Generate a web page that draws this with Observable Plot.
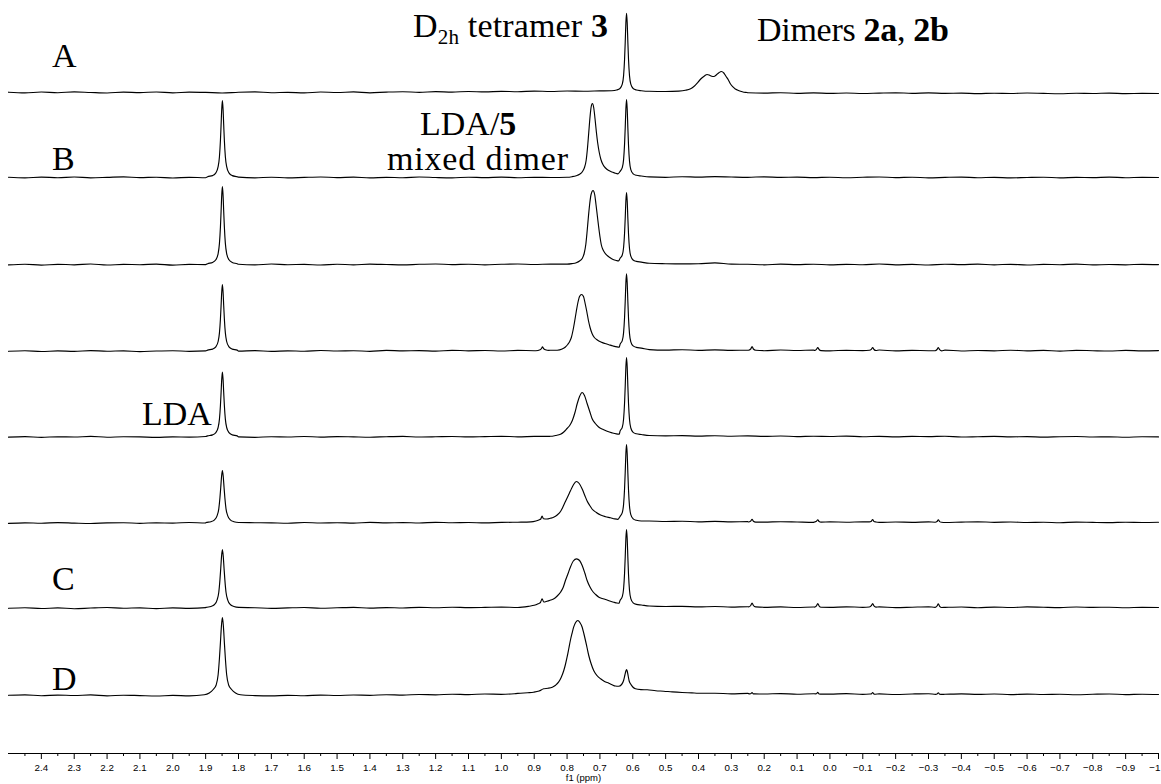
<!DOCTYPE html>
<html><head><meta charset="utf-8">
<script src="https://cdn.jsdelivr.net/npm/d3@7"></script>
<script src="https://cdn.jsdelivr.net/npm/@observablehq/plot@0.6"></script>
<style>html,body{margin:0;padding:0;background:#fff;} svg{display:block}</style>
</head><body><div id="chart"></div>
<script>
// ---------- DATA ----------
// x axis ticks
const tickValues = [2.4,2.3,2.2,2.1,2.0,1.9,1.8,1.7,1.6,1.5,1.4,1.3,1.2,1.1,1.0,0.9,0.8,0.7,0.6,0.5,0.4,0.3,0.2,0.1,0.0,-0.1,-0.2,-0.3,-0.4,-0.5,-0.6,-0.7,-0.8,-0.9,-1.0];
const tickLabels = ["2.4","2.3","2.2","2.1","2.0","1.9","1.8","1.7","1.6","1.5","1.4","1.3","1.2","1.1","1.0","0.9","0.8","0.7","0.6","0.5","0.4","0.3","0.2","0.1","0.0","\u22120.1","\u22120.2","\u22120.3","\u22120.4","\u22120.5","\u22120.6","\u22120.7","\u22120.8","\u22120.9","\u22121"];
const minorTickValues = [2.45,2.35,2.25,2.15,2.05,1.95,1.85,1.75,1.65,1.55,1.45,1.35,1.25,1.15,1.05,0.95,0.85,0.75,0.65,0.55,0.45,0.35,0.25,0.15,0.05,-0.05,-0.15,-0.25,-0.35,-0.45,-0.55,-0.65,-0.75,-0.85,-0.95];
const axisTitle = "f1 (ppm)";

// baseline samples every 0.05 ppm from 2.5 down to -1.0 (71 values per spectrum)
const baselinePpm = d3.range(71).map(i => +(2.5 - 0.05 * i).toFixed(2));
const base1 = [0.3,-0.4,0.5,-0.2,0.6,0.0,-0.5,0.4,-0.1,0.5, -0.3,0.4,0.1,-0.5,0.3,0.6,-0.2,0.2,-0.4,0.5, 0.0,0.6,-0.3,0.4,0.8,0.2,0.9,0.4,1.0,0.6, 1.2,0.8,1.4,1.0,1.5,1.3,1.6,1.5,1.4,1.2, 1.0,1.5,0,0,0,-0.3,-0.6,-0.2,-0.8,-0.4, -0.9,-0.5,-1.0,-0.6,-0.3,-0.8,-0.4,-0.9,-0.6,-1.1, -0.7,-1.0,-0.5,-0.9,-1.2,-0.7,-1.0,-0.6,-1.1,-0.8,-1.0];
const base2 = [1.2,0.6,1.4,0.8,1.5,0.7,1.1,1.6,0.9,1.3, 0.5,1.2,0.8,1.0,1.4,0.7,1.3,0.6,1.1,1.5, 0.9,1.4,0.6,1.2,0.8,1.5,1.0,0.7,1.3,0.9, 1.4,0.8,1.2,1.0,1.2,1.0,1.0,1.0,1.0,1.6, 1.2,1.8,1.4,1.9,1.5,1.2,1.7,1.1,1.4,0.9, 1.3,0.8,1.2,1.5,0.9,1.3,0.7,1.1,1.4,0.8, 1.2,0.6,1.0,1.3,0.7,1.1,0.9,1.4,0.8,1.2,1.0];
const base3 = [-0.4,0.3,-0.6,0.2,-0.3,0.5,-0.5,0.1,-0.2,0.4, -0.6,0.2,-0.1,0,0.3,-0.4,0.5,-0.2,0.1,-0.5, 0.3,-0.3,0.4,0.0,-0.4,0.2,0.5,-0.1,0.3,-0.3, 0.2,0.5,0.0,0.4,0.3,0,0,0,0,1.2, 0.8,0.6,0.8,1.6,0.4,0.2,-0.3,0.4,-0.1,0.3, -0.4,0.2,-0.2,0.5,-0.3,0.1,-0.5,0.3,-0.1,0.4, -0.3,0.2,-0.5,0.1,-0.2,0.4,-0.4,0.0,-0.3,0.2,-0.1];
const base4 = [-0.8,-0.2,-1.0,-0.4,-0.9,-0.1,-0.7,-0.3,-1.1,-0.5, -0.2,-0.8,-0.4,0,-0.6,-0.1,-0.9,-0.3,-0.7,0.0, -0.5,-0.2,-0.8,0.1,-0.4,-0.1,-0.6,0.2,-0.3,0.0, -0.5,0.1,-0.2,0.3,0,0,0,0,0,0.9, 0.4,0.8,0.2,0.6,0.1,0.3,-0.2,0.5,0.0,0.4, -0.3,0.2,-0.1,0.5,-0.4,0.1,-0.2,0.4,-0.5,0.0, -0.3,0.3,-0.4,0.1,-0.6,0.2,-0.2,-0.5,0.1,-0.3,-0.1];
const base5 = [-0.6,-0.1,-0.8,-0.3,-0.5,0.1,-0.7,-0.2,-0.4,-0.9, -0.3,-0.6,0.0,0,-0.4,-0.8,-0.2,-0.5,0.0,-0.6, -0.1,-0.4,-0.7,-0.2,0.1,-0.5,-0.3,0.0,-0.4,-0.1, 0.2,-0.3,0.1,-0.2,0.3,0,0,0,0,1.0, 0.6,0.9,0.4,0.8,0.3,0.6,0.1,0.5,-0.1,0.3, 0.0,0.4,-0.2,0.2,-0.4,0.1,-0.1,0.3,-0.5,-0.2, 0.1,-0.4,-0.1,-0.6,-0.2,0.0,-0.5,-0.3,-0.7,-0.2,-0.4];
const base6 = [-0.9,-0.3,-0.7,-0.1,-0.6,-1.0,-0.4,-0.2,-0.8,-0.3, -0.6,0.0,-0.5,0,-0.8,-0.2,-0.4,-0.7,0.0,-0.5, -0.2,-0.6,0.1,-0.3,-0.1,-0.5,0.2,-0.2,0.0,-0.4, 0.1,0.3,0.0,0,0,0,0,0,0,1.5, 1.0,1.3,0.7,1.1,0.6,0.9,0.4,0.8,0.5,0.2, 0.6,0.3,0.7,0.1,0.5,0.2,0.6,0.0,0.4,0.7, 0.2,0.5,0.0,0.3,-0.2,0.4,0.1,-0.1,0.3,0.0,0.2];
const base7 = [0.2,0.8,0.0,0.6,-0.2,0.5,1.0,0.3,0.7,-0.1, 0.6,0.2,0.9,0,0.4,0.8,0.1,0.6,1.0,0.3, 0.7,1.1,0.4,0.9,0.5,1.2,0.8,1.3,0.9,1.1, 1.4,1.0,0,0,0,0,0,0,0,2.5, 2.0,2.2,1.6,2.0,1.4,1.8,1.2,1.6,1.0,1.5, 1.1,1.7,1.2,1.6,0.9,1.3,1.7,1.1,1.5,0.8, 1.4,1.0,1.6,1.2,0.9,1.5,1.1,1.3,0.8,1.2,1.0];
const base8 = [-0.8,-0.3,-1.2,-0.6,-1.0,-0.4,-1.3,-0.7,-1.1,-1.5, -0.9,-1.4,-1.2,0,-1.6,-1.1,-1.4,-0.8,-1.2,-0.6, -1.0,-0.5,-0.8,-0.2,-0.6,0.0,-0.3,0.3,-0.1,0.5, 0.2,0.8,0.5,0,0,0,0,0,0,0, 0,0,0.9,1.3,0.7,1.1,0.5,0.9,0.3,0.8, 0.4,0.9,0.2,0.6,0.0,0.5,0.8,0.2,0.6,0.1, 0.5,-0.1,0.4,0.0,0.3,-0.2,0.2,0.5,-0.1,0.3,0.0];

// peak regions: [ppm, intensity] (ppm descending)
const peaks1 = [
  [[0.664,1.8],[0.649,2.5],[0.639,4.0],[0.632,8.3],[0.628,16.9],[0.625,33.3],[0.623,50.4],[0.621,69.9],[0.619,79.3],[0.617,69.9],[0.615,50.4],[0.613,33.3],[0.610,16.9],[0.606,8.3],[0.599,4.0],[0.589,2.5],[0.574,1.8]],
  [[0.46,1.4],[0.44,2.2],[0.424,3.8],[0.414,6],[0.404,9.3],[0.396,12.5],[0.389,14.8],[0.381,16.8],[0.374,18],[0.366,17.2],[0.36,16.3],[0.353,16],[0.346,17.5],[0.338,19.8],[0.330,21],[0.323,19.5],[0.316,16],[0.309,12.5],[0.303,8.8],[0.296,5.8],[0.289,3.8],[0.282,2.6],[0.272,1.2],[0.262,0.3],[0.252,0]]
];
const peaks2 = [
  [[1.894,1.8],[1.879,2.9],[1.869,5.6],[1.862,11.8],[1.858,21.8],[1.855,38],[1.853,53.4],[1.851,69.5],[1.849,78],[1.847,69.5],[1.845,53.4],[1.843,38],[1.840,21.8],[1.836,11.8],[1.829,5.6],[1.819,2.9],[1.804,1.8]],
  [[0.80,1.2],[0.785,1.8],[0.772,2.8],[0.762,4.2],[0.753,7],[0.747,11],[0.742,18],[0.738,30],[0.734,46],[0.730,62],[0.727,71],[0.723,75],[0.719,71],[0.715,60],[0.711,47],[0.707,36],[0.702,26],[0.697,19],[0.690,13.5],[0.683,10.5],[0.673,8],[0.663,6.5],[0.653,5.2],[0.645,4.7]],
  [[0.639,7.0],[0.632,10.9],[0.628,18.9],[0.625,34.6],[0.623,51],[0.621,69.8],[0.619,79],[0.617,69.8],[0.615,50.5],[0.613,33.6],[0.610,17.4],[0.606,8.9],[0.599,4.7],[0.589,3.2],[0.574,2.5]]
];
const peaks3 = [
  [[1.894,0.8],[1.879,2.0],[1.869,4.7],[1.862,10.9],[1.858,21.1],[1.855,37.4],[1.853,53],[1.851,69.4],[1.849,78],[1.847,69.4],[1.845,53],[1.843,37.4],[1.840,21.1],[1.836,10.9],[1.829,4.7],[1.819,2.0],[1.804,0.8]],
  [[0.80,0.4],[0.785,0.9],[0.772,1.8],[0.762,3.5],[0.754,6],[0.748,11],[0.743,20],[0.739,33],[0.735,48],[0.731,61],[0.727,70],[0.721,74],[0.716,70],[0.712,60],[0.708,49],[0.704,38],[0.700,28],[0.696,20],[0.691,15],[0.686,12],[0.678,9],[0.670,7],[0.660,5],[0.650,4],[0.643,3.6]],
  [[0.639,6.0],[0.632,9.5],[0.628,17],[0.625,31.5],[0.623,46.6],[0.621,63.8],[0.619,72],[0.617,63.6],[0.615,46.1],[0.613,30.7],[0.610,16],[0.606,8.3],[0.599,4.5],[0.589,3.1],[0.574,2.4]]
];
const peaks4 = [
  [[1.894,0.4],[1.879,1.4],[1.869,3.7],[1.862,9],[1.858,17.6],[1.855,31.5],[1.853,44.8],[1.851,58.7],[1.849,66],[1.847,58.7],[1.845,44.8],[1.843,31.5],[1.840,17.6],[1.836,9],[1.829,3.7],[1.819,1.4],[1.804,0.4]],
  [[0.895,-0.2],[0.882,0.8],[0.877,2.5],[0.875,3.8],[0.872,2.2],[0.866,0.8],[0.855,0.1]],
  [[0.830,0.3],[0.815,1.5],[0.805,3.5],[0.798,6],[0.792,9],[0.787,13],[0.782,20],[0.777,29],[0.772,39],[0.767,48],[0.762,54],[0.756,56],[0.750,54],[0.745,47],[0.740,39],[0.735,30],[0.730,23],[0.724,17],[0.717,13],[0.708,10.5],[0.697,8.5],[0.685,7],[0.673,5.8],[0.660,4.5],[0.648,3.6],[0.641,3.4]],
  [[0.639,5.9],[0.632,9.8],[0.628,17.9],[0.625,33.3],[0.623,49.5],[0.621,67.9],[0.619,76.7],[0.617,67.6],[0.615,48.9],[0.613,32.5],[0.610,16.9],[0.606,8.7],[0.599,4.6],[0.589,3.1],[0.574,2.4]],
  [[0.248,0.3],[0.241,1.5],[0.237,4],[0.233,1.5],[0.226,0.2]],
  [[0.047,0.1],[0.041,1.2],[0.037,3],[0.033,1],[0.027,-0.1]],
  [[-0.120,0.2],[-0.126,1.2],[-0.130,3],[-0.134,1],[-0.140,0]],
  [[-0.320,-0.2],[-0.326,1],[-0.330,3],[-0.334,0.8],[-0.340,-0.3]]
];
const peaks5 = [
  [[1.894,0.6],[1.879,1.6],[1.869,3.9],[1.862,9],[1.858,17.4],[1.855,31],[1.853,43.9],[1.851,57.4],[1.849,64.5],[1.847,57.4],[1.845,43.9],[1.843,31],[1.840,17.4],[1.836,9],[1.829,3.9],[1.819,1.6],[1.804,0.6]],
  [[0.850,0.2],[0.835,1],[0.820,2.2],[0.810,4.5],[0.800,8],[0.792,11],[0.784,16],[0.776,24],[0.769,33],[0.762,40],[0.754,44],[0.747,41],[0.739,33],[0.731,25],[0.724,18],[0.714,13],[0.704,9.5],[0.690,7],[0.678,5.2],[0.663,3.6],[0.650,2.6],[0.641,2.4]],
  [[0.639,5.1],[0.632,9.2],[0.628,17.5],[0.625,33.7],[0.623,50.5],[0.621,69.8],[0.619,79],[0.617,69.7],[0.615,50.3],[0.613,33.3],[0.610,17],[0.606,8.5],[0.599,4.2],[0.589,2.7],[0.574,2.0]]
];
const peaks6 = [
  [[1.899,0],[1.884,0.8],[1.873,2.7],[1.865,6.9],[1.860,13.7],[1.8565,24.7],[1.854,35.2],[1.8515,46.2],[1.849,52],[1.8465,46.2],[1.844,35.2],[1.8415,24.7],[1.838,13.7],[1.833,6.9],[1.825,2.7],[1.814,0.8],[1.799,0]],
  [[0.910,0.6],[0.895,1.5],[0.886,2.5],[0.880,3.5],[0.876,6.5],[0.872,3.8],[0.861,3.5],[0.851,4.2],[0.841,5.2],[0.830,7.5],[0.820,11],[0.812,16],[0.805,21],[0.797,26.5],[0.790,31.5],[0.781,37.5],[0.772,41],[0.763,39],[0.754,33.5],[0.746,27],[0.739,21.5],[0.731,17],[0.724,13.5],[0.711,10],[0.698,7.5],[0.683,5.8],[0.668,4.7],[0.655,3.6],[0.645,3.2]],
  [[0.639,5.9],[0.632,9.9],[0.628,18.1],[0.625,34],[0.623,50.5],[0.621,69.3],[0.619,78],[0.617,68.8],[0.615,49.5],[0.613,32.6],[0.610,16.4],[0.606,7.9],[0.599,3.7],[0.589,2.2],[0.574,1.5]],
  [[0.248,0.5],[0.241,1.5],[0.237,3.2],[0.233,1.3],[0.226,0.4]],
  [[0.047,0.5],[0.041,1.2],[0.037,2.8],[0.033,1],[0.027,0.4]],
  [[-0.120,0.6],[-0.126,1.3],[-0.130,3],[-0.134,1.1],[-0.140,0.5]],
  [[-0.320,0.3],[-0.326,1],[-0.330,2.8],[-0.334,0.9],[-0.340,0.2]]
];
const peaks7 = [
  [[1.899,1.1],[1.884,2.0],[1.873,4.0],[1.865,8.7],[1.860,16.3],[1.8565,28.6],[1.854,40.3],[1.8515,52.6],[1.849,59],[1.8465,52.6],[1.844,40.3],[1.8415,28.6],[1.838,16.3],[1.833,8.7],[1.825,4.0],[1.814,2.0],[1.799,1.1]],
  [[0.915,2.3],[0.900,3.2],[0.888,4.8],[0.881,6],[0.876,9.7],[0.871,6.5],[0.861,7.3],[0.850,8.5],[0.840,9.7],[0.830,12.5],[0.820,16.3],[0.812,21],[0.805,28],[0.797,35],[0.790,41.3],[0.781,47.5],[0.771,49.7],[0.762,48],[0.754,43],[0.746,35.5],[0.739,28],[0.731,22],[0.724,18],[0.713,14],[0.703,11.3],[0.693,10],[0.683,9],[0.670,7.5],[0.658,6.3],[0.648,5.5],[0.642,5.3]],
  [[0.639,7.9],[0.632,11.8],[0.628,19.8],[0.625,35.4],[0.623,51.7],[0.621,70.3],[0.619,79],[0.617,69.9],[0.615,50.9],[0.613,34.2],[0.610,18.2],[0.606,9.8],[0.599,5.7],[0.589,4.1],[0.574,3.5]],
  [[0.248,1.6],[0.241,3],[0.237,5.5],[0.233,3],[0.226,1.6]],
  [[0.047,1.4],[0.041,2.6],[0.037,5],[0.033,2.5],[0.027,1.2]],
  [[-0.120,1.5],[-0.126,2.8],[-0.130,5],[-0.134,2.6],[-0.140,1.4]],
  [[-0.320,1.2],[-0.326,2.5],[-0.330,4.6],[-0.334,2.2],[-0.340,1.0]]
];
const peaks8 = [
  [[1.904,-0.3],[1.889,1.5],[1.877,5],[1.868,9.5],[1.862,19.7],[1.858,36.2],[1.855,51.9],[1.852,68.4],[1.849,77],[1.846,68.4],[1.843,51.9],[1.840,36.2],[1.836,19.7],[1.830,9.5],[1.821,5],[1.809,1.5],[1.794,-0.3]],
  [[0.960,0.8],[0.942,1.3],[0.920,1.8],[0.902,2.3],[0.885,3.5],[0.871,5.7],[0.858,6.2],[0.845,7.3],[0.835,9.3],[0.826,12.3],[0.818,17],[0.810,24],[0.805,30],[0.800,37.3],[0.795,45.5],[0.790,54],[0.785,61],[0.780,67.3],[0.774,72],[0.767,74],[0.761,72],[0.754,67.3],[0.749,61],[0.744,54],[0.739,46.5],[0.734,39],[0.727,31],[0.719,24],[0.709,19],[0.698,15.7],[0.686,13],[0.673,11.3],[0.663,9.8],[0.653,8.5],[0.643,8.3],[0.634,10],[0.628,14],[0.624,19.5],[0.621,23.5],[0.619,25],[0.617,23.5],[0.614,18.5],[0.611,13.5],[0.607,10.7],[0.600,7.5],[0.592,5.7],[0.575,4.9],[0.556,4.7],[0.530,3.8],[0.506,3.3],[0.480,2.6],[0.450,2.0],[0.420,1.6],[0.40,1.3]],
  [[0.245,0.7],[0.241,0.8],[0.237,2],[0.233,0.6],[0.229,0.6]],
  [[0.045,0.7],[0.041,0.8],[0.037,2.2],[0.033,0.5],[0.029,0.4]],
  [[-0.122,0.5],[-0.126,0.6],[-0.130,2],[-0.134,0.4],[-0.138,0.3]],
  [[-0.322,0.2],[-0.326,0.5],[-0.330,1.8],[-0.334,0.2],[-0.338,0.1]]
];

// text labels
const panelLabels = ["A", "B", "C", "D"];
const labelTetramer = ["D", "2h", " tetramer ", "3"];
const labelDimers = ["Dimers ", "2a", ", ", "2b"];
const labelMixed1 = ["LDA/", "5"];
const labelMixed2 = "mixed dimer";
const labelLDA = "LDA";

// ---------- BUILD ----------
const baselines = [base1, base2, base3, base4, base5, base6, base7, base8];
const peakSets = [peaks1, peaks2, peaks3, peaks4, peaks5, peaks6, peaks7, peaks8];
const rows = [];
baselines.forEach((base, k) => {
  const segs = peakSets[k];
  const pts = [];
  baselinePpm.forEach((p, i) => {
    if (!segs.some(s => p <= s[0][0] && p >= s[s.length - 1][0])) pts.push([p, base[i]]);
  });
  segs.forEach(s => s.forEach(d => pts.push(d)));
  pts.sort((a, b) => b[0] - a[0]);
  const offset = 661 - 86 * k; // stacking offset of spectrum k
  pts.forEach(([p, v]) => rows.push({k, ppm: p, y: offset + v}));
});
const labelMap = new Map(tickValues.map((v, i) => [v, tickLabels[i]]));

const chart = Plot.plot({
  width: 1161, height: 784,
  marginLeft: 8, marginRight: 3, marginTop: 0, marginBottom: 31,
  x: {domain: [2.5, -1.0]},
  y: {domain: [0, 753], axis: null},
  style: {background: "#fff", color: "#000"},
  marks: [
    Plot.line(rows, {x: "ppm", y: "y", z: "k", stroke: "#000", strokeWidth: 1.15, curve: "monotone-x"}),
    Plot.ruleY([0], {stroke: "#000", strokeWidth: 1}),
    Plot.axisX(minorTickValues, {tickSize: 3, tickFormat: () => "", label: null}),
    Plot.axisX(tickValues, {tickSize: 6, tickPadding: 5, tickFormat: d => labelMap.get(d), fontSize: 9.8, fontFamily: "Liberation Sans", label: null}),
    Plot.text([axisTitle], {frameAnchor: "bottom", dy: 27, fontSize: 9.5, fontFamily: "Liberation Sans", fill: "#000"})
  ]
});
document.getElementById("chart").appendChild(chart);

// keep the last tick label inside the picture
d3.select(chart).selectAll("text").filter(function() { return this.textContent === "\u22121"; })
  .attr("text-anchor", "end").attr("dx", 2);

// ---------- ANNOTATIONS ----------
const svg = d3.select(chart);
const FS = 34;
function addText(x, y, parts, len) {
  const t = svg.append("text").attr("x", x).attr("y", y)
    .attr("text-anchor", "start")
    .attr("font-family", "Liberation Serif").attr("font-size", FS).attr("fill", "#000");
  if (len) t.attr("textLength", len).attr("lengthAdjust", "spacing");
  parts.forEach(p => {
    const ts = t.append("tspan").text(p.t);
    if (p.bold) ts.attr("font-weight", "bold");
    if (p.sub) ts.attr("font-size", FS * 0.62).attr("dy", 7);
    if (p.back) ts.attr("dy", -7);
  });
}
addText(52, 67, [{t: panelLabels[0]}]);
addText(52, 170, [{t: panelLabels[1]}]);
addText(52, 590, [{t: panelLabels[2]}]);
addText(52, 690, [{t: panelLabels[3]}]);
addText(413, 37, [{t: labelTetramer[0]}, {t: labelTetramer[1], sub: true}, {t: labelTetramer[2], back: true}, {t: labelTetramer[3], bold: true}], 195);
addText(757, 41, [{t: labelDimers[0]}, {t: labelDimers[1], bold: true}, {t: labelDimers[2]}, {t: labelDimers[3], bold: true}], 192);
addText(420, 135, [{t: labelMixed1[0]}, {t: labelMixed1[1], bold: true}]);
addText(387, 170, [{t: labelMixed2}], 181);
addText(142, 425, [{t: labelLDA}]);
</script>
</body></html>
